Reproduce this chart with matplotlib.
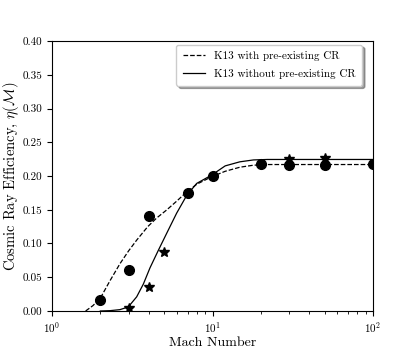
import matplotlib
matplotlib.use('Agg')
import matplotlib.pyplot as plt

plt.rcParams['font.family'] = 'serif'
plt.rcParams['font.serif'] = ['cmr10', 'DejaVu Serif']
plt.rcParams['mathtext.fontset'] = 'cm'
plt.rcParams['axes.formatter.use_mathtext'] = True
plt.rcParams['axes.unicode_minus'] = False

# K13 curve, with pre-existing CR
mach_pre = [1.62, 1.8, 2.0, 2.3, 2.65, 3.0, 3.37, 3.95, 4.5, 5.2, 6.0, 6.8, 8.0,
            9.9, 12.0, 14.8, 18.0, 22.0, 30.0, 50.0, 100.0]
eta_pre = [0.0, 0.008, 0.019, 0.045, 0.07, 0.089, 0.105, 0.125, 0.138, 0.150,
           0.163, 0.175, 0.188, 0.199, 0.207, 0.213, 0.216, 0.217, 0.217, 0.217, 0.217]

# K13 curve, without pre-existing CR
mach_nopre = [2.0, 2.3, 2.65, 2.9, 3.06, 3.37, 3.71, 4.08, 4.6, 5.18, 5.98, 6.9,
              7.97, 9.9, 12.0, 14.8, 18.0, 22.0, 30.0, 50.0, 100.0]
eta_nopre = [0.0, 0.0005, 0.002, 0.005, 0.009, 0.021, 0.040, 0.064, 0.090, 0.115,
             0.145, 0.171, 0.189, 0.2015, 0.215, 0.221, 0.2238, 0.2245, 0.2245, 0.2245, 0.2245]

# simulation points
mach_circ = [2, 3, 4, 7, 10, 20, 30, 50, 100]
eta_circ = [0.017, 0.061, 0.140, 0.175, 0.200, 0.218, 0.216, 0.216, 0.218]

mach_star = [3, 4, 5, 30, 50]
eta_star = [0.005, 0.035, 0.088, 0.225, 0.227]

fig = plt.figure(figsize=(4.15, 3.49), dpi=100)
ax = fig.add_axes([0.1253, 0.1089, 0.7735, 0.7736])

ax.plot(mach_pre, eta_pre, 'k--', lw=0.9, label='K13 with pre-existing CR')
ax.plot(mach_nopre, eta_nopre, 'k-', lw=0.9, label='K13 without pre-existing CR')
ax.plot(mach_circ, eta_circ, 'ko', ms=7, zorder=3)
ax.plot(mach_star, eta_star, 'k*', ms=7, zorder=3)

ax.set_xscale('log')
ax.set_xlim(1, 100)
ax.set_ylim(0, 0.4)
ax.set_yticks([0.0, 0.05, 0.1, 0.15, 0.2, 0.25, 0.3, 0.35, 0.4])
ax.set_yticklabels(['0.00', '0.05', '0.10', '0.15', '0.20', '0.25', '0.30', '0.35', '0.40'])
ax.tick_params(labelsize=8)
ax.set_xlabel('Mach Number', fontsize=10, labelpad=1)
ax.set_ylabel(r'Cosmic Ray Efficiency, $\eta(\mathcal{M})$', fontsize=10.5)
ax.yaxis.set_label_coords(-0.097, 0.5)

ax.legend(loc='upper right', bbox_to_anchor=(0.966, 0.987), borderaxespad=0,
          fontsize=8, fancybox=True, shadow=True, handlelength=2.0,
          labelspacing=0.7, borderpad=0.6)

fig.savefig('out.png', dpi=100)
